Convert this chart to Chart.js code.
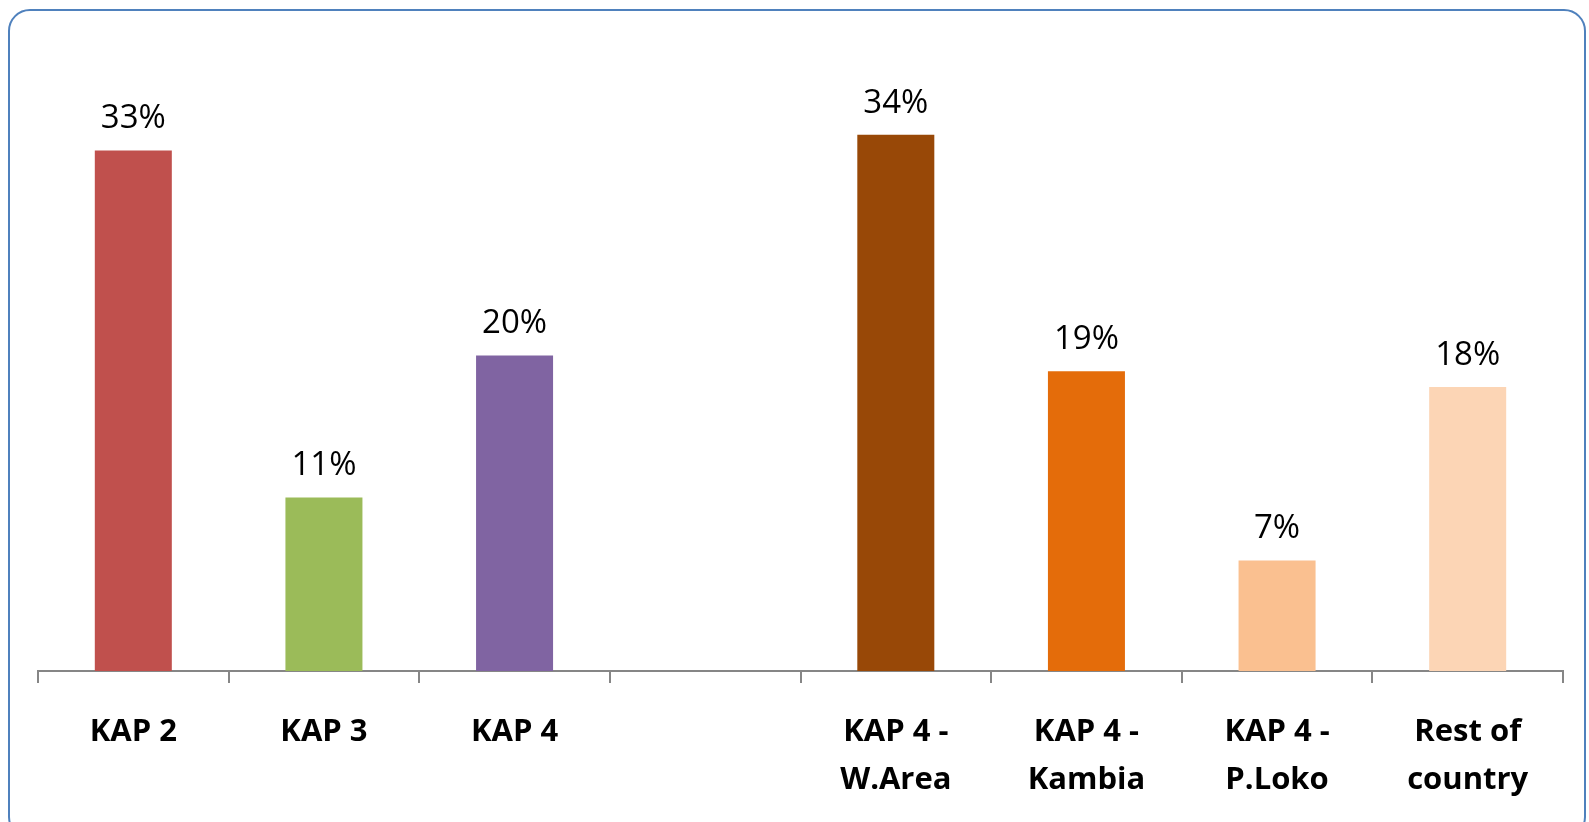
<!DOCTYPE html>
<html>
<head>
<meta charset="utf-8">
<script src="https://cdn.jsdelivr.net/npm/chart.js@4/dist/chart.umd.min.js"></script>
<style>
  html, body { margin: 0; padding: 0; background: #fff; overflow: hidden; }
  #frame {
    position: absolute; left: 8px; top: 9px;
    width: 1578px; height: 830px;
    border: 2.5px solid #4f81bd; border-radius: 22px;
    box-sizing: border-box;
  }
  #wrap { position: absolute; left: 0; top: 0; width: 1589px; height: 829px; }
</style>
</head>
<body>
<div id="frame"></div>
<div id="wrap"><canvas id="chart"></canvas></div>
<script>
// survey rounds and district breakdown (blank slot separates the two groups)
const categories = [
  "KAP 2", "KAP 3", "KAP 4", "",
  ["KAP 4 -", "W.Area"], ["KAP 4 -", "Kambia"], ["KAP 4 -", "P.Loko"], ["Rest of", "country"]
];
const percentValues = [33, 11, 20, null, 34, 19, 7, 18];
const barColors = [
  "#c0504d", "#9bbb59", "#8064a2", "#ffffff",
  "#984807", "#e46c0a", "#fac090", "#fcd5b5"
];

const FONT = "'Open Sans', 'Noto Sans', sans-serif";

// draws the "NN%" label above every bar
const valueLabels = {
  id: "valueLabels",
  afterDatasetsDraw(chart) {
    const { ctx } = chart;
    const meta = chart.getDatasetMeta(0);
    ctx.save();
    ctx.font = "33px " + FONT;
    ctx.fillStyle = "#000";
    ctx.textAlign = "center";
    ctx.textBaseline = "alphabetic";
    meta.data.forEach((bar, i) => {
      const v = percentValues[i];
      if (v == null) return;
      ctx.fillText(v + "%", bar.x, bar.y - 22);
    });
    ctx.restore();
  }
};

new Chart(document.getElementById("chart"), {
  type: "bar",
  data: {
    labels: categories,
    datasets: [{
      data: percentValues,
      backgroundColor: barColors,
      barPercentage: 1,
      categoryPercentage: 0.404
    }]
  },
  options: {
    responsive: true,
    maintainAspectRatio: false,
    animation: false,
    layout: { padding: { left: 38, right: 26, top: 40, bottom: 0 } },
    plugins: { legend: { display: false }, tooltip: { enabled: false } },
    scales: {
      y: { display: false, min: 0, max: 40 },
      x: {
        grid: {
          display: true,
          offset: true,
          drawOnChartArea: false,
          drawTicks: true,
          tickLength: 12,
          color: "#868686",
          lineWidth: 2
        },
        border: { color: "#868686", width: 2 },
        ticks: {
          color: "#000",
          maxRotation: 0,
          autoSkip: false,
          padding: 25,
          font: { family: FONT, size: 31, weight: "bold", lineHeight: 1.55 }
        }
      }
    }
  },
  plugins: [valueLabels]
});
</script>
</body>
</html>
